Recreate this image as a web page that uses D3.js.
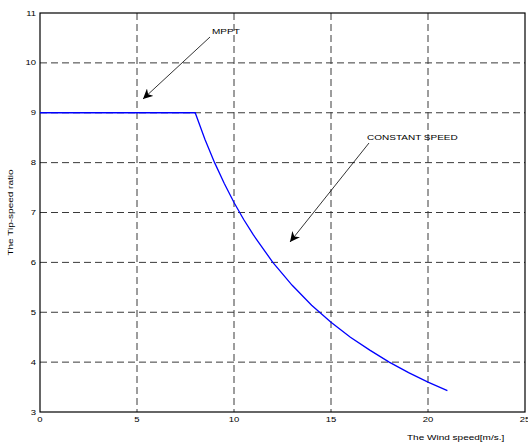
<!DOCTYPE html>
<html><head><meta charset="utf-8">
<script src="https://cdn.jsdelivr.net/npm/d3@7"></script>
<style>body{margin:0;background:#fff}svg{display:block}text{font-family:"Liberation Sans",Arial,sans-serif}</style>
</head><body><svg id="c" width="528" height="444"></svg>
<script>
const windSpeed = [0,2,4,6,8,8.5,9,9.5,10,10.5,11,12,13,14,15,16,17,18,19,20,21];
const tipSpeedRatio = [9,9,9,9,9,8.47,8,7.58,7.2,6.86,6.55,6,5.54,5.14,4.8,4.5,4.24,4,3.79,3.6,3.43];
const xTicks = [0,5,10,15,20,25];
const yTicks = [3,4,5,6,7,8,9,10,11];
const annotations = [
  {label:"MPPT", tx:212, ty:33.5, x1:210, y1:37, x2:143, y2:99},
  {label:"CONSTANT SPEED", tx:367, ty:139.5, x1:369, y1:143, x2:290, y2:242}
];
const svg = d3.select("#c");
const L=40,R=525,T=13,B=412;
const FS=7.7, SX=1.3;
const x = d3.scaleLinear().domain([0,25]).range([L,R]);
const y = d3.scaleLinear().domain([3,11]).range([B,T]);
function stretchedText(g,px,py,txt,anchor,rot,fs){
  return g.append("text").attr("transform",`translate(${px},${py})${rot?` rotate(${rot})`:""} scale(${SX},1)`)
    .attr("font-size",fs||FS).attr("text-anchor",anchor||"start").attr("fill","#000").text(txt);
}
const grid = svg.append("g");
xTicks.slice(1,-1).forEach(v=>grid.append("line").attr("x1",x(v)).attr("x2",x(v)).attr("y1",T).attr("y2",B)
  .attr("stroke","#3a3a3a").attr("stroke-width",1).attr("stroke-dasharray","7,4"));
yTicks.slice(1,-1).forEach(v=>grid.append("line").attr("x1",L).attr("x2",R).attr("y1",y(v)).attr("y2",y(v))
  .attr("stroke","#3a3a3a").attr("stroke-width",1).attr("stroke-dasharray","7,4"));
const labels = svg.append("g");
xTicks.forEach(v=>stretchedText(labels,x(v),422,String(v),"middle",0,7.3));
yTicks.forEach(v=>stretchedText(labels,36,y(v)+2.5,String(v),"end",0,7.3));
svg.append("rect").attr("x",L).attr("y",T).attr("width",R-L).attr("height",B-T).attr("fill","none").attr("stroke","#000").attr("stroke-width",1.2);
const line = d3.line().x((d,i)=>x(windSpeed[i])).y(d=>y(d));
svg.append("path").datum(tipSpeedRatio).attr("d",line).attr("fill","none").attr("stroke","#0000ff").attr("stroke-width",1.3);
stretchedText(svg,407,440,"The Wind speed[m/s.]");
stretchedText(svg,13,(T+B)/2,"The Tip-speed ratio","middle",-90);
svg.append("defs").append("marker").attr("id","ah").attr("viewBox","0 0 10 10").attr("refX",10).attr("refY",5)
  .attr("markerWidth",10).attr("markerHeight",10).attr("markerUnits","userSpaceOnUse").attr("orient","auto")
  .append("path").attr("d","M0,0 L10,5 L0,10 L3,5 Z").attr("fill","#000");
annotations.forEach(a=>{
  stretchedText(svg,a.tx,a.ty,a.label);
  svg.append("line").attr("x1",a.x1).attr("y1",a.y1).attr("x2",a.x2).attr("y2",a.y2).attr("stroke","#000").attr("stroke-width",0.8).attr("marker-end","url(#ah)");
});
</script></body></html>
